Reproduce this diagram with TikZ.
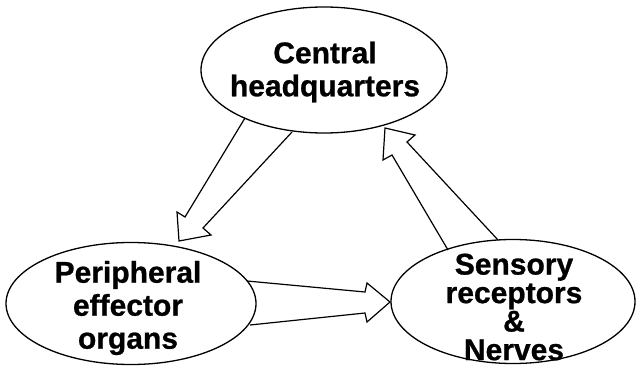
\documentclass[tikz,border=0pt]{standalone}
\usepackage{fontspec}
\setmainfont{Liberation Sans}[BoldFeatures={FakeBold=0.8}]
\begin{document}
\begin{tikzpicture}[x=1pt,y=-1pt,
  lbl/.style={align=center,font=\bfseries\fontsize{30}{33}\selectfont,inner sep=0pt},
  outline/.style={line width=1.3pt},
  blockarrow/.style={line width=1.2pt,line join=miter}]
\useasboundingbox (0,0) rectangle (636,366);
% nodes
\node[lbl] (C) at (325,72) {Central\\headquarters};
\draw[outline] (C.center) ++(-1,-2) ellipse [x radius=123pt, y radius=63pt];
\node[lbl] (P) at (128,308) {Peripheral\\effector\\organs};
\draw[outline] (131,303.5) ellipse [x radius=125pt, y radius=61pt];
\node[lbl,font=\bfseries\fontsize{30}{28.5}\selectfont] (S) at (514,307) {Sensory\\receptors\\\&\\Nerves};
\draw[outline] (513,301.5) ellipse [x radius=122pt, y radius=62pt];
% block arrows
\coordinate (a1s) at (245,118); \coordinate (a1e) at (292,132);
\draw[blockarrow] (a1s) -- (185,217) -- (177,212) -- (179,241) -- (211,235) -- (203,228) -- (a1e);
\coordinate (a2s) at (247,281); \coordinate (a2e) at (250,325);
\draw[blockarrow] (a2s) -- (365,292) -- (367,283) -- (390,302) -- (367,322) -- (365,313) -- (a2e);
\coordinate (a3s) at (448,250); \coordinate (a3e) at (498,240);
\draw[blockarrow] (a3s) -- (392,155) -- (383,160) -- (385,128) -- (415,135) -- (407,142) -- (a3e);
\end{tikzpicture}
\end{document}
